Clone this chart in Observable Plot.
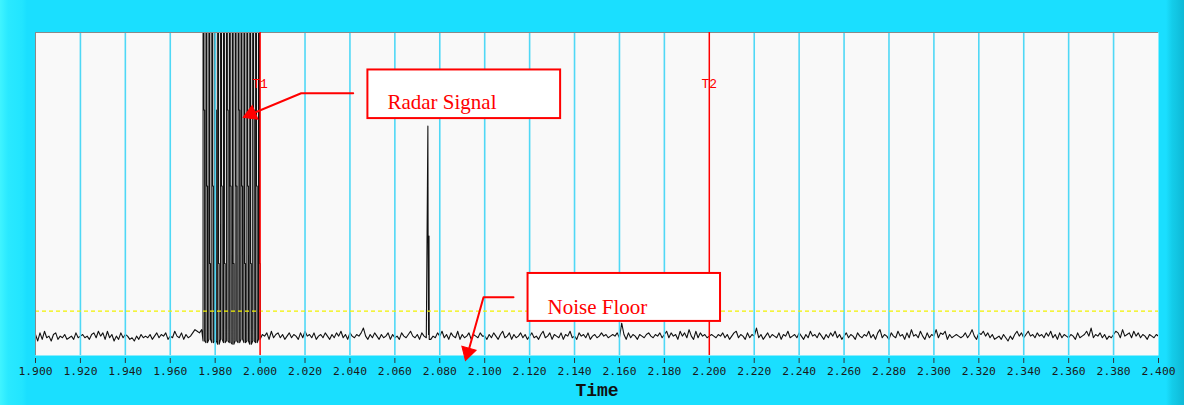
<!DOCTYPE html>
<html>
<head>
<meta charset="utf-8">
<script src="https://cdn.jsdelivr.net/npm/d3@7"></script>
<script src="https://cdn.jsdelivr.net/npm/@observablehq/plot@0.6"></script>
<style>
  html, body { margin: 0; padding: 0; background: #1adfff; }
  #chart svg { display: block; }
</style>
</head>
<body>
<div id="chart"></div>
<script>
// ---- Data ----
const timeDomain = [1.9, 2.4];
const tickValues = d3.range(0, 26).map(i => +(1.9 + i * 0.02).toFixed(3));

// noise trace, sampled every 1 ms from 1.900 to 2.400 (arbitrary amplitude units)
const noise = [
  13,9,14,10,15,11,12,9,13,14, 10,12,11,13,10,11,12,10,14,11, 12,13,11,12,10,13,14,11,15,12, 14,10,15,11,13,9,12,10,14,11, 13,12,10,11,9,12,10,13,11,12,
  11,13,10,12,14,11,13,12,14,10, 12,11,15,12,11,14,10,13,11,12, 14,16,15,14,16,12,10,9,11,8, 10,9,12,8,10,9,11,8,9,10, 8,11,9,10,8,9,11,8,10,9,
  10,13,12,14,10,15,11,13,14,11, 13,10,12,14,11,13,12,10,14,11, 15,12,13,11,14,10,12,13,11,14, 12,10,13,11,14,12,15,11,13,10, 14,12,11,13,12,14,17,12,10,13,
  11,14,12,10,13,11,12,14,10,13, 11,12,10,14,12,11,13,15,12,11, 13,10,14,12,11,13,10,12,11,14, 12,15,11,13,10,14,12,11,15,10, 13,11,12,14,10,13,12,11,14,12,
  12,10,13,11,14,12,10,13,15,11, 12,14,10,13,11,12,14,11,13,10, 12,14,11,12,10,13,15,11,12,14, 10,13,12,11,14,10,13,12,15,11, 12,10,14,12,13,11,14,10,12,13,
  11,12,14,12,13,11,12,13,12,14, 11,20,13,10,14,11,13,12,10,13, 12,11,13,14,12,11,13,12,14,11, 13,15,11,14,12,13,10,15,12,14, 11,16,12,10,15,11,14,12,13,11,
  12,13,12,11,13,12,14,11,13,10, 12,14,15,11,13,12,10,14,11,13, 12,17,11,13,10,12,14,11,13,12, 11,14,10,13,12,15,11,12,13,11, 14,12,10,13,11,15,12,13,11,14,
  12,10,13,11,14,12,15,11,13,10, 12,14,11,13,12,10,14,12,11,13, 12,15,11,13,10,14,16,11,13,12, 10,14,12,11,15,12,13,10,14,11, 16,12,13,11,15,12,10,14,11,13,
  12,16,11,14,13,15,10,13,11,12, 13,12,11,12,14,11,13,16,12,10, 14,13,15,12,14,11,13,10,11,12, 10,13,11,9,12,10,13,15,12,14, 11,13,15,12,13,11,14,12,13,11,
  14,12,15,11,13,10,14,11,13,12, 11,13,12,10,14,11,12,13,15,12, 17,11,13,12,14,11,13,10,12,11, 13,15,14,11,16,12,13,14,11,15, 12,14,11,13,12,10,13,12,11,13,
  12
];

// radar pulse train between T1-25ms and T1
const pulseT    = [1.9746,1.9759,1.9772,1.9785,1.9798,1.9811,1.9824,1.9837,1.9850,1.9863,1.9876,1.9889,1.9902,1.9915,1.9928,1.9941,1.9954,1.9967,1.9980,1.9993];
const pulseStep = [152,105,57,105,152,57,105,57,152,105,57,105,152,105,57,105,57,152,105,57];
const pulseLow  = [9,8,10,8,9,7,10,8,9,8,7,9,8,10,8,9,7,9,8,10];
const pulsePeak = 230;

// isolated spike near 2.075
const spikeT = [2.0747, 2.0748, 2.0752, 2.0753];
const spikeV = [142, 74, 74, 10];

const threshold = 27.5;        // yellow dashed line
const markerT = [2.0, 2.2];
const markerLabels = ["T1", "T2"];
const markerLabelY = 168;

// annotation boxes / arrows (data units)
const annoBoxes = [
  {x1: 2.0480, x2: 2.1338, y1: 146.7, y2: 176.8, label: "Radar Signal", tx: 2.0567, ty: 156.5},
  {x1: 2.1193, x2: 2.2050, y1: 21.1,  y2: 50.8,  label: "Noise Floor",  tx: 2.1280, ty: 29.8}
];
const radarArrowT = [2.04145, 2.01830, 1.99400];
const radarArrowV = [162.4, 162.4, 148.3];
const noiseArrowT = [2.11282, 2.09947, 2.09230];
const noiseArrowV = [36.1, 36.1, 0.5];
const arrowHeads = [
  {t: 1.99599, v: 149.5, rot: -112.5},
  {t: 2.09248, v: 1.98,  rot: -164.1}
];

// gridlines at every tick except the frame edges and the red marker lines
const gridValues = tickValues.slice(1, -1).filter(t => !markerT.some(m => Math.abs(m - t) < 1e-9));

// ---- Build the trace ----
const step = (timeDomain[1] - timeDomain[0]) / (noise.length - 1);
const signal = [];
noise.forEach((v, i) => {
  const t = timeDomain[0] + i * step;
  if (t < 1.9744 || t > 2.0003) signal.push({t, v});
});
pulseT.forEach((t, i) => {
  signal.push({t: t,           v: pulseLow[i]});
  signal.push({t: t + 0.00001, v: pulsePeak});
  signal.push({t: t + 0.0004,  v: pulsePeak});
  signal.push({t: t + 0.00041, v: pulseStep[i]});
  signal.push({t: t + 0.0007,  v: pulseStep[i]});
  signal.push({t: t + 0.00071, v: pulseLow[i]});
});
spikeT.forEach((t, i) => signal.push({t, v: spikeV[i]}));
signal.sort((a, b) => a.t - b.t);

const radarArrow = radarArrowT.map((t, i) => ({t, v: radarArrowV[i]}));
const noiseArrow = noiseArrowT.map((t, i) => ({t, v: noiseArrowV[i]}));

const chart = Plot.plot({
  width: 1184,
  height: 405,
  marginLeft: 35,
  marginRight: 26,
  marginTop: 32,
  marginBottom: 50,
  x: {domain: timeDomain, axis: null},
  y: {domain: [0, 200], axis: null},
  style: {
    background: "linear-gradient(to right, #40f4ff 0px, #2ae9ff 8px, #22e5ff 22px, #1adfff 27px, #1adfff 1166px, #14cdea 1172px, #0fb9d6 1184px)",
    overflow: "visible"
  },
  marks: [
    Plot.frame({fill: "#f9f9f9", stroke: null}),
    Plot.line(signal, {x: "t", y: "v", stroke: "#111", strokeWidth: 1.1, clip: true}),
    Plot.ruleX(gridValues, {stroke: "#4fd8f6", strokeWidth: 1.6}),
    Plot.ruleY([threshold], {stroke: "#f2f200", strokeWidth: 1.3, strokeDasharray: "4,3"}),
    Plot.ruleY([200], {stroke: "#8a8a8a", strokeWidth: 1}),
    Plot.ruleX([timeDomain[0]], {stroke: "#8a8a8a", strokeWidth: 1}),
    Plot.ruleX(markerT, {stroke: "#ff0000", strokeWidth: 1.5}),
    Plot.text(markerT, {x: d => d, y: markerLabelY, text: (d, i) => markerLabels[i], fill: "#ff0000",
      fontFamily: "Liberation Mono", fontSize: 13}),
    Plot.rect(annoBoxes, {x1: "x1", x2: "x2", y1: "y1", y2: "y2", fill: "white", stroke: "#ff0000", strokeWidth: 2}),
    Plot.text(annoBoxes, {x: "tx", y: "ty", text: "label", textAnchor: "start", fill: "#ff0000",
      fontFamily: "Liberation Serif", fontSize: 21}),
    Plot.line(radarArrow, {x: "t", y: "v", stroke: "#ff0000", strokeWidth: 2}),
    Plot.line(noiseArrow, {x: "t", y: "v", stroke: "#ff0000", strokeWidth: 2}),
    Plot.dot(arrowHeads, {x: "t", y: "v", symbol: "triangle", r: 5.5, fill: "#ff0000", stroke: "#ff0000", strokeWidth: 1, rotate: "rot"}),
    Plot.axisX({ticks: tickValues, tickFormat: d3.format(".3f"), tickSize: 5, tickPadding: 3, dy: 3,
      stroke: "#333", fill: "#1a1a1a", fontFamily: "DejaVu Sans Mono", fontSize: 11.3, label: null}),
    Plot.text(["Time"], {frameAnchor: "bottom", dy: 40, text: d => d, fontFamily: "Liberation Mono",
      fontWeight: "bold", fontSize: 18, fill: "#111"})
  ]
});
document.getElementById("chart").appendChild(chart);
</script>
</body>
</html>
